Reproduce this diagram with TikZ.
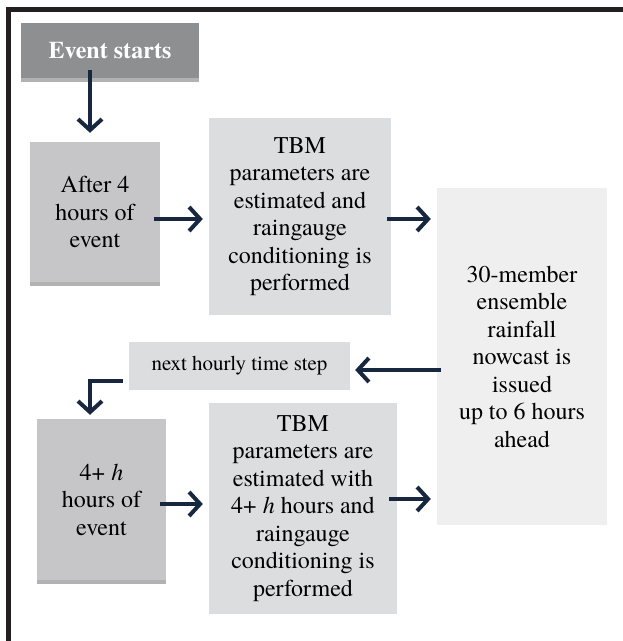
\documentclass[tikz,border=0pt]{standalone}
\usepackage{fontspec}
\setmainfont{TeX Gyre Termes}
\newfontfamily\tnr{TeX Gyre Termes}
\usetikzlibrary{arrows.meta,shadows}
\definecolor{framec}{HTML}{231F20}
\definecolor{darkbox}{HTML}{8E8F91}
\definecolor{midbox}{HTML}{C6C6C8}
\definecolor{lightbox}{HTML}{DCDDDF}
\definecolor{palebox}{HTML}{EFEFEF}
\definecolor{navy}{HTML}{172740}
\tikzset{
  box/.style={rectangle, inner sep=0pt, align=center, font=\tnr\fontsize{24}{27.5}\selectfont, text=black},
  shadowed/.style={drop shadow={shadow xshift=0pt, shadow yshift=-4pt, fill=black, opacity=0.3}},
  arr/.style={draw=navy, line width=4pt, -{Straight Barb[length=11pt,width=24pt,line width=4pt]}},
  frameline/.style={draw=framec, line width=5pt}
}
\begin{document}
\begin{tikzpicture}[x=1pt,y=-1pt]
\useasboundingbox (0,0) rectangle (623,641);
\fill[white] (0,0) rectangle (623,641);
\draw[frameline] (8,641) -- (8,9.5) -- (623,9.5);

\node[box, shadowed, fill=darkbox, minimum width=178pt, minimum height=55pt, text=white, font=\tnr\fontsize{24}{27.5}\selectfont\bfseries] (ev) at (110,50.5) {Event starts};
\node[box, shadowed, fill=midbox, minimum width=130pt, minimum height=140pt] (a4) at (95,212) {After 4\\hours of\\event};
\node[box, fill=lightbox, minimum width=182pt, minimum height=197pt] (tb1) at (300,216.5) {TBM\\parameters are\\estimated and\\raingauge\\conditioning is\\performed};
\node[box, fill=palebox, minimum width=170pt, minimum height=337pt] (big) at (522,356.5) {30-member\\ensemble\\rainfall\\nowcast is\\issued\\up to 6 hours\\ahead};
\node[box, fill=lightbox, minimum width=221pt, minimum height=48pt, font=\tnr\fontsize{21}{24}\selectfont] (nx) at (239.5,366) {next hourly time step};
\node[box, shadowed, fill=midbox, minimum width=129pt, minimum height=161pt] (h4) at (101.5,499.5) {4+ \textit{h}\\hours of\\event};
\node[box, fill=lightbox, minimum width=188pt, minimum height=211pt] (tb2) at (303,508.5) {TBM\\parameters are\\estimated with\\4+ \textit{h} hours and\\raingauge\\conditioning is\\performed};

\draw[arr] ([xshift=-20pt,yshift=8pt]ev.south) -- ([xshift=-5pt,yshift=9pt]a4.north);
\draw[arr] ([xshift=-6pt,yshift=-7pt]a4.east) -- ([xshift=-6pt,yshift=-7pt]a4.east -| tb1.west);
\draw[arr] ([xshift=-4pt,yshift=-2.5pt]tb1.east) -- ([xshift=-6pt,yshift=-2.5pt]tb1.east -| big.west);
\draw[arr] ([xshift=4pt,yshift=-4pt]nx.east -| big.west) -- ([xshift=5pt,yshift=-4pt]nx.east);
\draw[arr] ([xshift=-6pt,yshift=-15pt]nx.west) -| ([xshift=-11.5pt,yshift=4pt]h4.north);
\draw[arr] ([xshift=-6pt,yshift=-4.5pt]h4.east) -- ([xshift=-6pt,yshift=-4.5pt]h4.east -| tb2.west);
\draw[arr] ([xshift=-8pt,yshift=9.5pt]tb2.east) -- ([xshift=-6pt,yshift=9.5pt]tb2.east -| big.west);
\end{tikzpicture}
\end{document}
